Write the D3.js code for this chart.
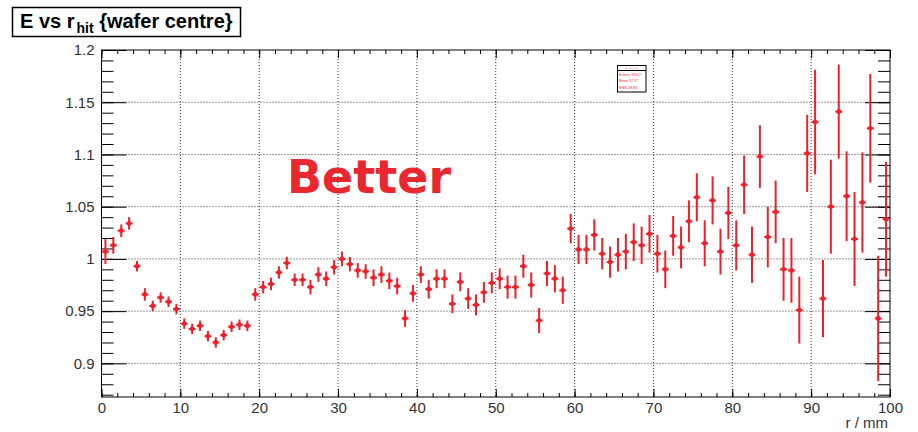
<!DOCTYPE html>
<html>
<head>
<meta charset="utf-8">
<script src="https://cdn.jsdelivr.net/npm/d3@7"></script>
<style>
  html, body { margin: 0; padding: 0; background: #fff; }
  svg { display: block; }
  text { font-family: "Liberation Sans", Arial, Helvetica, sans-serif; }
</style>
</head>
<body>
<svg id="chart" width="918" height="432"></svg>
<script>
// Profile of E against hit radius r, 1 mm bins from 0 to 100 mm
const binLow = d3.range(0, 100);           // lower bin edges (mm)
const binWidth = 1;
const meanE = [
  1.007, 1.013, 1.027, 1.034, 0.993, 0.966, 0.955, 0.963, 0.959, 0.952,
  0.938, 0.933, 0.936, 0.926, 0.920, 0.927, 0.935, 0.937, 0.936, 0.966,
  0.973, 0.976, 0.987, 0.996, 0.980, 0.980, 0.973, 0.985, 0.981, 0.992,
  1.000, 0.995, 0.989, 0.988, 0.982, 0.985, 0.979, 0.974, 0.943, 0.967,
  0.985, 0.971, 0.981, 0.981, 0.957, 0.978, 0.962, 0.956, 0.968, 0.977,
  0.981, 0.973, 0.973, 0.993, 0.975, 0.941, 0.986, 0.981, 0.970, 1.029,
  1.009, 1.009, 1.023, 1.005, 0.997, 1.004, 1.007, 1.016, 1.013, 1.024,
  1.005, 0.990, 1.022, 1.011, 1.036, 1.059, 1.015, 1.056, 1.007, 1.044,
  1.013, 1.071, 1.004, 1.098, 1.021, 1.045, 0.990, 0.989, 0.951, 1.101,
  1.131, 0.962, 1.050, 1.141, 1.060, 1.019, 1.054, 1.125, 0.943, 1.038
];
const errE = [
  0.012, 0.008, 0.006, 0.006, 0.005, 0.006, 0.005, 0.005, 0.005, 0.005,
  0.005, 0.005, 0.005, 0.005, 0.005, 0.005, 0.005, 0.005, 0.005, 0.006,
  0.006, 0.006, 0.006, 0.006, 0.006, 0.006, 0.007, 0.007, 0.007, 0.007,
  0.007, 0.007, 0.007, 0.007, 0.008, 0.008, 0.008, 0.008, 0.008, 0.008,
  0.008, 0.009, 0.009, 0.009, 0.009, 0.009, 0.010, 0.010, 0.010, 0.010,
  0.010, 0.011, 0.011, 0.011, 0.012, 0.012, 0.012, 0.013, 0.013, 0.014,
  0.014, 0.014, 0.015, 0.015, 0.015, 0.016, 0.017, 0.018, 0.018, 0.018,
  0.018, 0.018, 0.019, 0.020, 0.020, 0.023, 0.022, 0.023, 0.022, 0.025,
  0.024, 0.028, 0.027, 0.030, 0.029, 0.030, 0.030, 0.031, 0.032, 0.037,
  0.050, 0.037, 0.045, 0.045, 0.043, 0.045, 0.048, 0.052, 0.060, 0.055
];
const xTicks = [0, 10, 20, 30, 40, 50, 60, 70, 80, 90, 100];
const yTicks = [0.9, 0.95, 1, 1.05, 1.1, 1.15, 1.2];
const yTickLabels = ["0.9", "0.95", "1", "1.05", "1.1", "1.15", "1.2"];
const xTitle = "r / mm";
const statsRows = ["E_vs_r_hit", "Entries   99117", "Mean     57.17", "RMS      28.84"];

const svg = d3.select("#chart");
const W = 918, H = 432;
const frame = { left: 101.5, right: 890, top: 50, bottom: 397 };

const x = d3.scaleLinear().domain([0, 100]).range([frame.left, frame.right]);
const y = d3.scaleLinear().domain([0.8678, 1.2]).range([frame.bottom, frame.top]);

svg.append("rect").attr("width", W).attr("height", H).attr("fill", "#fff");

// dotted grid at the major divisions
const grid = svg.append("g").attr("stroke", "#333").attr("stroke-width", 1)
  .attr("stroke-dasharray", "1,2").attr("fill", "none");
xTicks.filter(v => v > 0 && v < 100).forEach(v => {
  grid.append("line").attr("x1", x(v)).attr("x2", x(v))
    .attr("y1", frame.top).attr("y2", frame.bottom);
});
yTicks.filter(v => v < 1.2).forEach(v => {
  grid.append("line").attr("x1", frame.left).attr("x2", frame.right)
    .attr("y1", y(v)).attr("y2", y(v));
});

// axes: ticks on all four sides, pointing into the frame
const yMinor = d3.range(0.87, 1.2001, 0.01).map(v => +v.toFixed(2));
const xMinor = d3.range(0, 100.01, 2);

function styleAxis(g) {
  g.select(".domain").remove();
  g.selectAll(".tick line").attr("stroke", "#000").attr("stroke-width", 1);
  g.selectAll(".tick text").attr("fill", "#333").attr("font-size", 15);
}

svg.append("g").attr("transform", `translate(${frame.left},0)`)
  .call(d3.axisLeft(y).tickValues(yTicks).tickSize(-25).tickPadding(7)
    .tickFormat((d, i) => yTickLabels[i]))
  .call(styleAxis);
svg.append("g").attr("transform", `translate(${frame.left},0)`)
  .call(d3.axisLeft(y).tickValues(yMinor).tickSize(-12).tickFormat(""))
  .call(styleAxis);
svg.append("g").attr("transform", `translate(${frame.right},0)`)
  .call(d3.axisRight(y).tickValues(yTicks).tickSize(-25).tickFormat(""))
  .call(styleAxis);
svg.append("g").attr("transform", `translate(${frame.right},0)`)
  .call(d3.axisRight(y).tickValues(yMinor).tickSize(-12).tickFormat(""))
  .call(styleAxis);

svg.append("g").attr("transform", `translate(0,${frame.bottom})`)
  .call(d3.axisBottom(x).tickValues(xTicks).tickSize(-8).tickPadding(5)
    .tickFormat(d3.format("d")))
  .call(styleAxis);
svg.append("g").attr("transform", `translate(0,${frame.bottom})`)
  .call(d3.axisBottom(x).tickValues(xMinor).tickSize(-4).tickFormat(""))
  .call(styleAxis);
svg.append("g").attr("transform", `translate(0,${frame.top})`)
  .call(d3.axisTop(x).tickValues(xTicks).tickSize(-8).tickFormat(""))
  .call(styleAxis);
svg.append("g").attr("transform", `translate(0,${frame.top})`)
  .call(d3.axisTop(x).tickValues(xMinor).tickSize(-4).tickFormat(""))
  .call(styleAxis);

// frame
svg.append("rect")
  .attr("x", frame.left).attr("y", frame.top)
  .attr("width", frame.right - frame.left).attr("height", frame.bottom - frame.top)
  .attr("fill", "none").attr("stroke", "#000").attr("stroke-width", 1);

// axis title
svg.append("text").attr("x", frame.right - 2).attr("y", 428)
  .attr("text-anchor", "end").attr("font-size", 15).attr("fill", "#333")
  .text(xTitle);

// profile points with error bars
const pts = binLow.map((lo, i) => ({ lo, mean: meanE[i], err: errE[i] }));
const red = "#f0202a";
const marks = svg.append("g").attr("stroke", red).attr("fill", red);
const clipTop = frame.top, clipBot = frame.bottom;
marks.selectAll("line.ev").data(pts).join("line").attr("class", "ev")
  .attr("x1", d => x(d.lo + binWidth / 2)).attr("x2", d => x(d.lo + binWidth / 2))
  .attr("y1", d => Math.max(clipTop, y(d.mean + d.err)))
  .attr("y2", d => Math.min(clipBot, y(d.mean - d.err)))
  .attr("stroke-width", 2);
marks.selectAll("line.eh").data(pts).join("line").attr("class", "eh")
  .attr("x1", d => x(d.lo) + 0.5).attr("x2", d => x(d.lo + binWidth) - 0.5)
  .attr("y1", d => y(d.mean)).attr("y2", d => y(d.mean))
  .attr("stroke-width", 2);
marks.selectAll("circle").data(pts).join("circle")
  .attr("cx", d => x(d.lo + binWidth / 2)).attr("cy", d => y(d.mean))
  .attr("r", 2.4).attr("stroke", "none");

// statistics box
const sb = svg.append("g");
sb.append("rect").attr("x", 617.5).attr("y", 65.5).attr("width", 28.5).attr("height", 26.5)
  .attr("fill", "#fff").attr("stroke", "#000").attr("stroke-width", 1);
sb.append("line").attr("x1", 617.5).attr("x2", 646).attr("y1", 70.5).attr("y2", 70.5)
  .attr("stroke", "#000").attr("stroke-width", 1);
sb.selectAll("text").data(statsRows).join("text")
  .attr("x", (d, i) => i === 0 ? 631.75 : 619)
  .attr("y", (d, i) => [69.3, 75.5, 82, 89][i])
  .attr("text-anchor", (d, i) => i === 0 ? "middle" : "start")
  .attr("font-size", (d, i) => i === 0 ? 2.5 : 3.6)
  .attr("fill", red)
  .text(d => d);

// title box
const tb = svg.append("g");
tb.append("rect").attr("x", 12.5).attr("y", 7.5).attr("width", 228).attr("height", 29)
  .attr("fill", "#fff").attr("stroke", "#000").attr("stroke-width", 1.5);
const title = tb.append("text").attr("x", 20).attr("y", 27.5)
  .attr("font-size", 20).attr("font-weight", "bold").attr("fill", "#000");
title.append("tspan").text("E vs r");
title.append("tspan").attr("dx", 2).attr("dy", 5).attr("font-size", 14).text("hit");
title.append("tspan").attr("dy", -5).text(" {wafer centre}");

// annotation
svg.append("text").attr("x", 287).attr("y", 193)
  .style("font-family", "'DejaVu Sans', sans-serif")
  .attr("font-size", 46).attr("font-weight", "bold").attr("fill", "#e8282e")
  .text("Better");
</script>
</body>
</html>
